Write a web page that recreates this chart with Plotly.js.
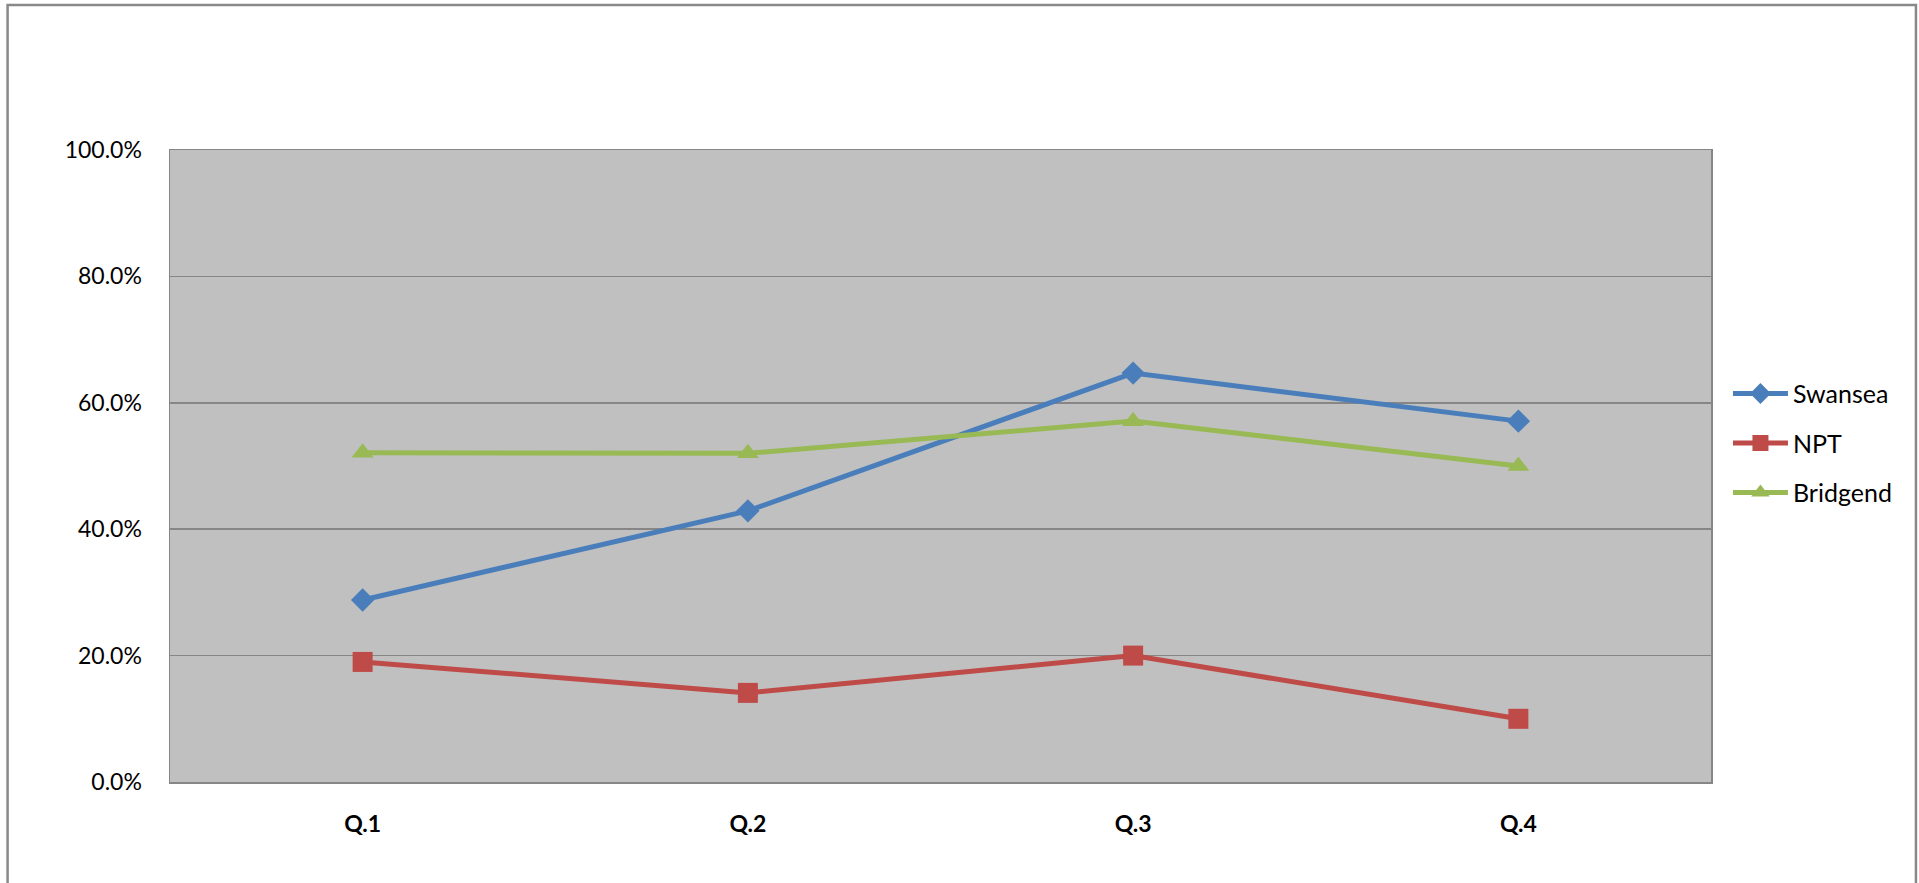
<!DOCTYPE html>
<html>
<head>
<meta charset="utf-8">
<script src="https://cdn.plot.ly/plotly-3.0.1.min.js"></script>
<style>
html, body { margin: 0; padding: 0; background: #ffffff; }
#chart { width: 1919px; height: 883px; }
</style>
</head>
<body>
<div id="chart"></div>
<script>
var categories = ["Q.1", "Q.2", "Q.3", "Q.4"];
var swansea = [0.288, 0.429, 0.647, 0.571];
var npt = [0.190, 0.141, 0.200, 0.100];
var bridgend = [0.521, 0.520, 0.571, 0.500];
var yTickVals = [0, 0.2, 0.4, 0.6, 0.8, 1.0];

var traces = [
  {x: categories, y: swansea, name: "Swansea", legendgroup: "a", type: "scatter", mode: "lines+markers",
   line: {color: "#4A7EBB", width: 5}, marker: {symbol: "diamond", size: 18, color: "#4A7EBB"}},
  {x: categories, y: npt, name: "NPT", legendgroup: "b", type: "scatter", mode: "lines+markers",
   line: {color: "#BE4B48", width: 5}, marker: {symbol: "square", size: 20, color: "#BE4B48"}},
  {x: categories, y: bridgend, name: "Bridgend", legendgroup: "c", type: "scatter", mode: "lines+markers",
   line: {color: "#98B954", width: 5}, marker: {symbol: "triangle-up", size: 19, color: "#98B954"}}
];

var layout = {
  width: 1919, height: 883,
  margin: {l: 170, r: 208, t: 150, b: 101, pad: 0},
  paper_bgcolor: "#ffffff",
  plot_bgcolor: "#C0C0C0",
  font: {family: "Lato, 'Open Sans', sans-serif", size: 23, color: "#000000"},
  showlegend: true,
  legend: {x: 1.011, y: 0.536, xanchor: "left", yanchor: "middle", bgcolor: "rgba(0,0,0,0)",
           font: {size: 25}, itemwidth: 55, traceorder: "grouped", tracegroupgap: 14},
  xaxis: {type: "category", range: [-0.5, 3.5], showgrid: false, zeroline: false,
          showline: true, linecolor: "#868686", linewidth: 1.5, mirror: true,
          ticks: "", tickfont: {size: 23, color: "#000000", weight: "bold"},
          ticklabelstandoff: 21, fixedrange: true},
  yaxis: {range: [0, 1], tickvals: yTickVals, tickformat: ".1%",
          showgrid: true, gridcolor: "#868686", gridwidth: 1.5, zeroline: false,
          showline: true, linecolor: "#868686", linewidth: 1.5, mirror: true,
          ticks: "", tickfont: {size: 23, color: "#000000"},
          ticklabelstandoff: 22, fixedrange: true},
  shapes: [
    {type: "rect", xref: "paper", yref: "paper",
     x0: -0.1054, x1: 1.1330, y0: -0.2, y1: 1.2294,
     line: {color: "#898989", width: 2.5}, fillcolor: "rgba(0,0,0,0)", layer: "below"}
  ]
};

Plotly.newPlot("chart", traces, layout, {displayModeBar: false, staticPlot: true});
</script>
</body>
</html>
